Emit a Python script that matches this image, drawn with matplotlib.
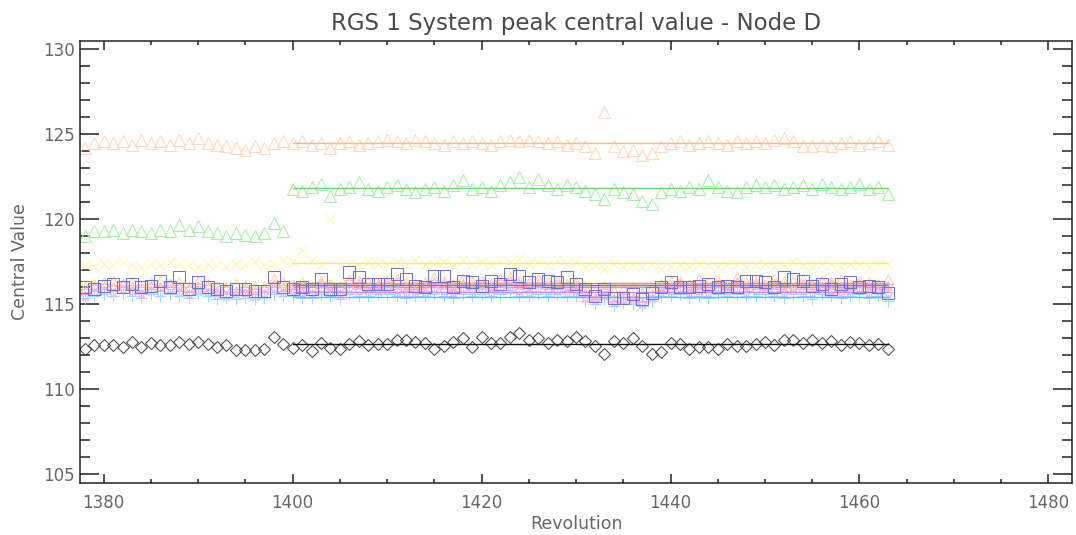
import numpy as np
import matplotlib
matplotlib.use("Agg")
import matplotlib.pyplot as plt
from matplotlib.ticker import MultipleLocator

# revolution numbers, one point per revolution
revs = np.arange(1378, 1464)
fit_start = 1400

# peak central values per line (1378..1399, then 1400..1463)
orange_hi = [124.2, 124.5, 124.6, 124.5, 124.6, 124.4, 124.7, 124.5, 124.6, 124.4, 124.7,
             124.5, 124.8, 124.5, 124.4, 124.3, 124.2, 124.1, 124.3, 124.2, 124.5, 124.6,
             124.5, 124.6, 124.4, 124.5, 124.2, 124.5, 124.6, 124.4, 124.5, 124.6,
             124.7, 124.6, 124.5, 124.7, 124.6, 124.5, 124.4, 124.6, 124.5, 124.6,
             124.5, 124.4, 124.6, 124.7, 124.6, 124.7, 124.6, 124.5, 124.6, 124.4,
             124.5, 124.3, 123.9, 126.3, 124.3, 124.0, 124.1, 123.8, 123.9, 124.3,
             124.5, 124.6, 124.4, 124.5, 124.6, 124.5, 124.4, 124.6, 124.5, 124.6,
             124.5, 124.7, 124.8, 124.6, 124.3, 124.3, 124.4, 124.3, 124.5, 124.6,
             124.4, 124.5, 124.6, 124.4]

green = [119.0, 119.3, 119.3, 119.4, 119.2, 119.4, 119.3, 119.2, 119.4, 119.3, 119.7,
         119.4, 119.6, 119.3, 119.2, 119.0, 119.2, 119.1, 119.0, 119.2, 119.8, 119.3,
         121.8, 121.7, 121.9, 122.1, 121.4, 121.8, 121.9, 122.2, 121.8, 121.7,
         121.9, 122.0, 121.8, 121.6, 121.8, 121.9, 121.7, 122.0, 122.3, 121.8,
         121.9, 121.7, 122.0, 122.2, 122.5, 121.9, 122.4, 122.0, 121.8, 122.0,
         121.9, 121.7, 121.5, 121.2, 121.8, 121.6, 121.5, 121.1, 120.9, 121.6,
         121.8, 121.7, 121.9, 121.8, 122.3, 121.9, 121.7, 121.6, 121.9, 122.0,
         121.9, 122.0, 121.8, 121.9, 122.0, 121.8, 122.1, 121.9, 121.8, 121.9,
         122.1, 121.8, 121.9, 121.5]

yellow = [117.3, 117.2, 117.4, 117.3, 117.5, 117.3, 117.2, 117.4, 117.3, 117.5, 117.4,
          117.3, 117.2, 117.4, 117.3, 117.2, 117.4, 117.3, 117.5, 117.3, 117.4, 117.6,
          117.5, 118.2, 117.6, 117.3, 120.0, 117.2, 117.4, 117.3, 117.5, 117.4,
          117.3, 117.5, 117.4, 117.6, 117.3, 117.4, 117.5, 117.3, 117.6, 117.4,
          117.5, 117.3, 117.6, 117.5, 117.7, 117.4, 117.5, 117.3, 117.6, 117.4,
          117.5, 117.2, 117.3, 117.1, 117.4, 117.2, 117.3, 117.2, 117.4, 117.1,
          117.2, 117.3, 117.2, 117.4, 117.3, 117.2, 117.4, 117.3, 117.2, 117.3,
          117.4, 117.2, 117.3, 117.5, 117.3, 117.2, 117.4, 117.3, 117.2, 117.4,
          117.3, 117.2, 117.4, 117.3]

blue = [116.0, 115.9, 116.1, 116.2, 116.0, 116.2, 116.0, 116.1, 116.4, 116.0, 116.6,
        115.9, 116.3, 116.0, 115.9, 115.8, 115.9, 115.9, 115.8, 115.8, 116.6, 116.0,
        115.9, 116.0, 115.9, 116.5, 115.9, 115.9, 116.9, 116.6, 116.2, 116.2,
        116.2, 116.8, 116.5, 116.1, 116.0, 116.7, 116.7, 116.0, 116.4, 116.3,
        116.1, 116.4, 116.2, 116.8, 116.7, 116.3, 116.5, 116.4, 116.3, 116.6,
        116.2, 115.9, 115.5, 115.9, 115.4, 115.4, 115.6, 115.3, 115.7, 116.0,
        116.3, 116.0, 116.0, 116.1, 116.2, 116.0, 116.1, 116.0, 116.4, 116.4,
        116.3, 116.0, 116.6, 116.5, 116.4, 116.1, 116.2, 115.9, 116.2, 116.3,
        116.0, 116.1, 116.0, 115.7]

orange_lo = [116.0, 116.2, 116.3, 116.4, 116.2, 116.3, 116.1, 116.3, 116.4, 116.2, 116.3,
             116.1, 116.4, 116.2, 116.1, 116.0, 116.2, 116.1, 116.0, 116.1, 116.5, 116.3,
             116.2, 116.3, 116.1, 116.4, 116.2, 116.1, 116.5, 116.4, 116.3, 116.2,
             116.4, 116.5, 116.3, 116.2, 116.3, 116.6, 116.4, 116.2, 116.5, 116.3,
             116.4, 116.2, 116.5, 116.6, 116.4, 116.3, 116.5, 116.3, 116.4, 116.2,
             116.3, 116.0, 115.8, 116.1, 115.8, 115.9, 116.0, 115.7, 116.0, 116.2,
             116.3, 116.4, 116.2, 116.5, 116.3, 116.4, 116.2, 116.6, 116.3, 116.4,
             116.2, 116.5, 116.4, 116.3, 116.5, 116.2, 116.4, 116.3, 116.5, 116.2,
             116.4, 116.3, 116.2, 116.5]

pink = [115.8, 116.0, 116.1, 116.0, 116.2, 116.0, 115.9, 116.1, 116.0, 116.2, 116.0,
        115.9, 116.1, 116.0, 115.8, 115.9, 115.8, 115.9, 115.8, 115.9, 116.2, 116.0,
        116.0, 116.1, 115.9, 116.2, 116.0, 115.9, 116.3, 116.2, 116.0, 116.1,
        116.2, 116.3, 116.1, 116.0, 116.1, 116.3, 116.2, 116.0, 116.2, 116.1,
        116.2, 116.0, 116.3, 116.4, 116.2, 116.1, 116.2, 116.1, 116.2, 116.0,
        116.1, 115.7, 115.4, 115.8, 115.3, 115.5, 115.4, 115.1, 115.6, 116.0,
        116.1, 116.2, 116.0, 116.1, 116.0, 116.2, 116.0, 116.3, 116.1, 116.2,
        116.0, 116.2, 116.1, 116.0, 116.2, 116.1, 116.0, 116.2, 116.1, 116.0,
        116.2, 116.1, 116.0, 116.1]

magenta = [115.5, 115.7, 115.8, 115.7, 115.9, 115.8, 115.6, 115.8, 115.7, 115.9, 115.7,
           115.6, 115.8, 115.7, 115.6, 115.5, 115.6, 115.7, 115.5, 115.6, 115.9, 115.7,
           115.8, 115.7, 115.6, 115.9, 115.7, 115.6, 115.9, 115.8, 115.7, 115.8,
           115.9, 115.8, 115.7, 115.8, 115.7, 115.9, 115.8, 115.7, 115.9, 115.8,
           115.8, 115.7, 115.9, 116.0, 115.8, 115.7, 115.9, 115.8, 115.8, 115.7,
           115.8, 115.4, 115.2, 115.5, 115.1, 115.3, 115.2, 115.0, 115.4, 115.7,
           115.8, 115.9, 115.7, 115.8, 115.7, 115.9, 115.8, 115.9, 115.7, 115.8,
           115.9, 115.8, 115.7, 115.9, 115.8, 115.7, 115.9, 115.8, 115.7, 115.8,
           115.9, 115.7, 115.8, 115.6]

cyan = [115.4, 115.5, 115.6, 115.5, 115.7, 115.5, 115.4, 115.6, 115.5, 115.6, 115.5,
        115.4, 115.6, 115.5, 115.3, 115.4, 115.3, 115.4, 115.3, 115.4, 115.6, 115.5,
        115.5, 115.4, 115.4, 115.6, 115.5, 115.3, 115.6, 115.5, 115.5, 115.6,
        115.6, 115.5, 115.4, 115.5, 115.5, 115.6, 115.5, 115.4, 115.6, 115.5,
        115.6, 115.5, 115.6, 115.7, 115.5, 115.5, 115.6, 115.5, 115.6, 115.5,
        115.5, 115.2, 115.0, 115.3, 114.9, 115.1, 115.0, 114.9, 115.2, 115.5,
        115.5, 115.6, 115.4, 115.5, 115.4, 115.6, 115.5, 115.6, 115.5, 115.5,
        115.6, 115.5, 115.4, 115.6, 115.5, 115.3, 115.6, 115.5, 115.4, 115.5,
        115.6, 115.4, 115.5, 115.2]

black = [112.37, 112.6, 112.6, 112.6, 112.48, 112.8, 112.48, 112.74, 112.6, 112.6, 112.8,
         112.66, 112.8, 112.66, 112.48, 112.6, 112.35, 112.35, 112.3, 112.38, 113.07, 112.66,
         112.45, 112.6, 112.27, 112.74, 112.45, 112.37, 112.7, 112.84, 112.6, 112.7,
         112.7, 112.94, 112.9, 112.8, 112.74, 112.37, 112.55, 112.8, 113.0, 112.48,
         113.07, 112.74, 112.74, 113.1, 113.3, 112.9, 113.0, 112.74, 112.9,
         112.84, 113.07, 112.84, 112.55, 112.1, 112.84, 112.74, 113.0, 112.55, 112.1,
         112.2, 112.74, 112.66, 112.4, 112.48, 112.48, 112.37, 112.7, 112.55, 112.55,
         112.66, 112.8, 112.6, 112.9, 112.9, 112.74, 112.9, 112.74, 112.84, 112.6,
         112.8, 112.74, 112.6, 112.66, 112.4]

# (values, marker, size, marker colour, line colour)
series = [
    (orange_hi, "^", 9, "#ffd6b8", "#f8b888"),
    (green, "^", 9, "#a6eea6", "#6cd86c"),
    (yellow, "x", 7, "#fff6a8", "#f5ea70"),
    (orange_lo, "^", 7, "#fad2a4", "#e39640"),
    (pink, "*", 7, "#ffaec0", "#ff8098"),
    (magenta, "*", 7, "#eaa6ff", "#c884ff"),
    (cyan, "+", 9, "#9cd8ff", "#6cb8ff"),
    (blue, "s", 9, "#7272c8", "#7272c8"),
    (black, "D", 6.5, "#4a4a4a", "#111111"),
]

fig = plt.figure(figsize=(10.76, 5.35), dpi=100)
ax = fig.add_axes([0.0744, 0.0972, 0.9219, 0.8262])

for vals, mk, ms, mc, lc in series:
    vals = np.array(vals)
    if mk in ("x", "+"):
        ax.plot(revs, vals, linestyle="none", marker=mk, ms=ms, color=mc, mew=0.7)
    else:
        ax.plot(revs, vals, linestyle="none", marker=mk, ms=ms,
                mfc="none", mec=mc, mew=0.75)
    sel = revs >= fit_start
    m = vals[sel].mean()
    ax.plot([fit_start, revs[-1]], [m, m], color=lc, lw=1.0)

ax.set_xlim(1377.5, 1482.5)
ax.set_ylim(104.5, 130.5)

ax.xaxis.set_major_locator(MultipleLocator(20))
ax.xaxis.set_minor_locator(MultipleLocator(5))
ax.yaxis.set_major_locator(MultipleLocator(5))
ax.yaxis.set_minor_locator(MultipleLocator(1))

ax.tick_params(axis="both", which="both", direction="in", top=True, right=True,
               colors="#222222", labelcolor="#666666", labelsize=12, width=1.1)
ax.tick_params(axis="x", which="major", length=6.5, pad=8)
ax.tick_params(axis="x", which="minor", length=3.2)
ax.tick_params(axis="y", which="major", length=14, pad=4)
ax.tick_params(axis="y", which="minor", length=7)
for s in ax.spines.values():
    s.set_linewidth(1.1)
    s.set_color("#222222")

ax.set_title("RGS 1 System peak central value - Node D", fontsize=16.5,
             color="#4a4a4a", pad=8)
ax.set_xlabel("Revolution", fontsize=12.5, color="#666666", labelpad=2)
ax.set_ylabel("Central Value", fontsize=12.5, color="#666666", labelpad=10)

fig.savefig("out.png", dpi=100)
